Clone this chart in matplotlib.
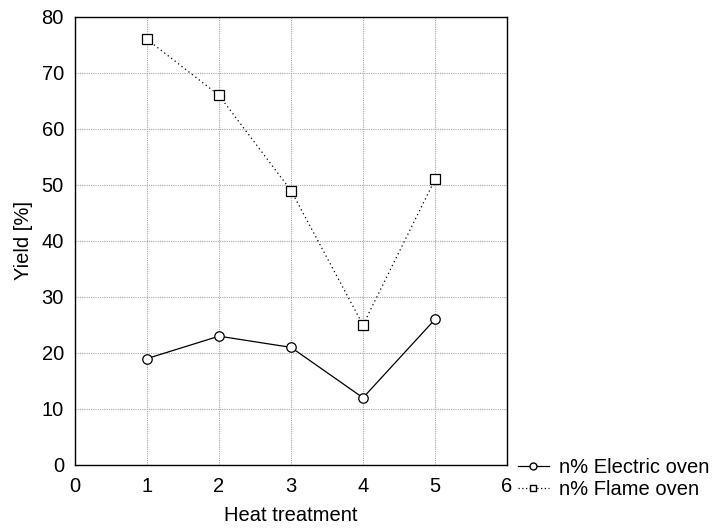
import matplotlib.pyplot as plt
from matplotlib.lines import Line2D

treatment = [1, 2, 3, 4, 5]
electric = [19, 23, 21, 12, 26]
flame = [76, 66, 49, 25, 51]
xticks = [0, 1, 2, 3, 4, 5, 6]
yticks = [0, 10, 20, 30, 40, 50, 60, 70, 80]

plt.rcParams['font.family'] = ['Liberation Sans', 'DejaVu Sans']
plt.rcParams['font.size'] = 14.5

fig = plt.figure(figsize=(7.24, 5.29), dpi=100)
ax = fig.add_axes([0.1036, 0.121, 0.5967, 0.847])

ax.plot(treatment, electric, color='black', lw=0.9, marker='o', ms=6.8,
        mfc='white', mec='black', mew=0.9, label='n% Electric oven', zorder=3)
ax.plot(treatment, flame, color='black', lw=0.9, ls=(0, (1, 2.5)), marker='s', ms=6.8,
        mfc='white', mec='black', mew=0.9, label='n% Flame oven', zorder=3)

ax.set_xlim(0, 6)
ax.set_ylim(0, 80)
ax.set_xticks(xticks)
ax.set_yticks(yticks)
ax.tick_params(axis='y', length=0, pad=8)
ax.tick_params(axis='x', length=0, pad=9)
ax.grid(True, color='#a8a8a8', ls=(0, (1, 1)), lw=0.8)
for s in ax.spines.values():
    s.set_linewidth(1.0)
    s.set_color('black')

ax.set_xlabel('Heat treatment', labelpad=7)
ax.set_ylabel('Yield [%]', labelpad=6)

handles = [
    Line2D([0], [0], color='black', lw=0.9, marker='o', ms=5, mfc='white', mec='black'),
    Line2D([0], [0], color='black', lw=0.9, ls=(0, (1, 2)), marker='s', ms=5, mfc='white', mec='black'),
]
fig.legend(handles, ['n% Electric oven', 'n% Flame oven'], loc='upper left',
           bbox_to_anchor=(0.716, 0.135), frameon=False, handlelength=1.5,
           handletextpad=0.5, labelspacing=0.18, borderaxespad=0, borderpad=0)

fig.savefig('out.png', dpi=100)
